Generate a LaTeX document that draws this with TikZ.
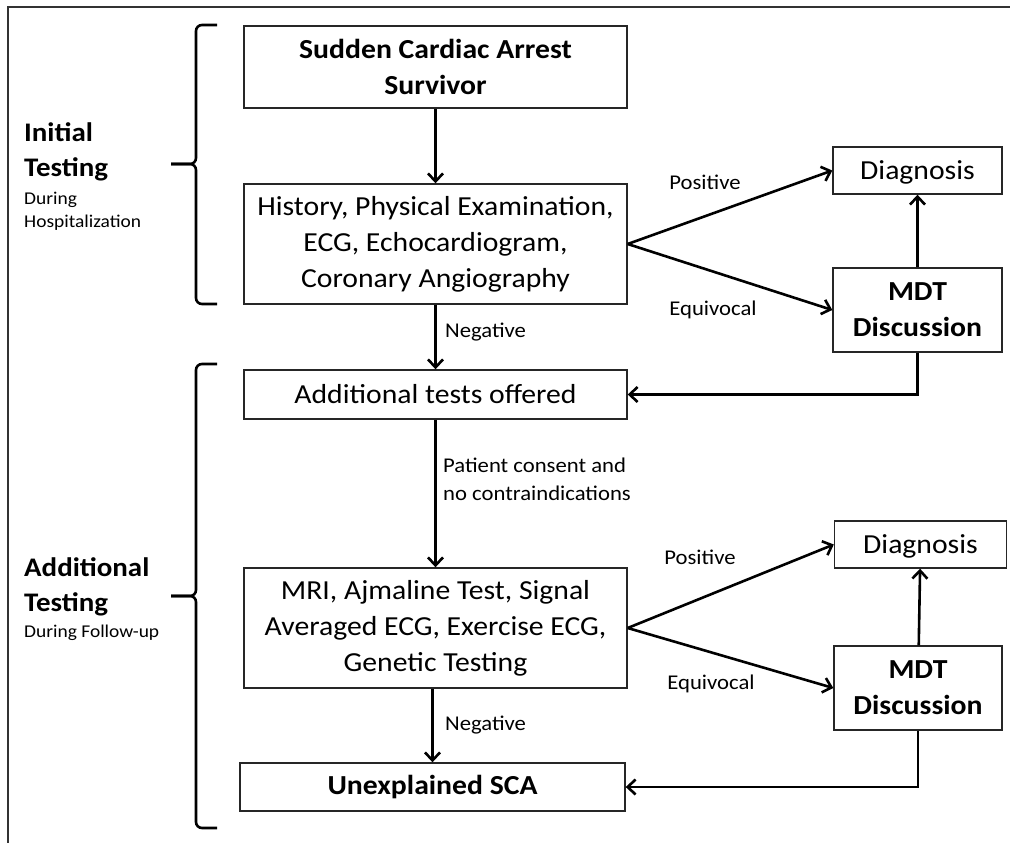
\documentclass[tikz,border=0pt]{standalone}
\usepackage{fontspec}
\setmainfont{Carlito}[FakeStretch=1.08]
\usetikzlibrary{arrows.meta,positioning}

\begin{document}
\begin{tikzpicture}[x=1pt, y=-1pt, > = {Straight Barb[length=8pt,width=15pt]},
    box/.style = {draw=black!85, line width=1.4pt, align=center, inner sep=0pt, font=\fontsize{27.5}{36}\selectfont},
    bbox/.style = {box, font=\bfseries\fontsize{27.5}{36}\selectfont},
    flow/.style = {line width=2.6pt, ->},
    brace/.style = {line width=2.6pt, rounded corners=6pt},
    lbl/.style = {inner sep=0pt, align=left, font=\fontsize{21}{28}\selectfont},
    side/.style = {anchor=west, inner sep=0pt, align=left, font=\bfseries\fontsize{26.8}{35}\selectfont},
    sidesmall/.style = {anchor=west, inner sep=0pt, align=left, font=\fontsize{18}{23}\selectfont}]

    \useasboundingbox (0,0) rectangle (1010,843);

    % frame
    \draw[line width=2.2pt, black!80] (1010,7) -- (8,7) -- (8,843);

    % main column
    \node[bbox, minimum width=383pt, minimum height=82pt] (sca) at (435.5,67) {Sudden Cardiac Arrest\\Survivor};
    \node[box, minimum width=383pt, minimum height=120pt] (hist) at (435.5,244) {History, Physical Examination,\\ECG, Echocardiogram,\\Coronary Angiography};
    \node[box, minimum width=383pt, minimum height=49pt] (add) at (435.5,394.5) {Additional tests offered};
    \node[box, minimum width=383pt, minimum height=120pt] (mri) at (435.5,628) {MRI, Ajmaline Test, Signal\\Averaged ECG, Exercise ECG,\\Genetic Testing};
    \node[bbox, minimum width=385pt, minimum height=48pt] (unex) at (432.5,787) {Unexplained SCA};

    % right column
    \node[box, text depth=0pt, minimum width=169pt, minimum height=47pt] (diag1) at (917.5,170.5) {Diagnosis};
    \node[bbox, minimum width=169pt, minimum height=84pt] (mdt1) at (917.5,310) {MDT\\Discussion};
    \node[box, text depth=0pt, minimum width=172pt, minimum height=47pt] (diag2) at (920.5,544.5) {Diagnosis};
    \node[bbox, minimum width=168pt, minimum height=84pt] (mdt2) at (918,688) {MDT\\Discussion};

    % side labels
    \node[side] (init) at (24,152) {Initial\\Testing};
    \node[sidesmall] (hosp) at (24,211) {During\\Hospitalization};
    \node[side] (addt) at (24,587) {Additional\\Testing};
    \node[sidesmall] (foll) at (24,633) {During Follow-up};

    % braces
    \draw[brace] (217,25) -| (196,164) -- (171,164);
    \draw[brace] (217,304) -| (196,164) -- (171,164);
    \draw[brace] (217,364) -| (196,596) -- (171,596);
    \draw[brace] (217,828) -| (196,596) -- (171,596);

    % arrows
    \draw[flow] (sca) -- (hist);
    \draw[flow] (hist) -- (add);
    \draw[flow] (add) -- (mri);
    \draw[flow] (mri.south -| unex.north) -- (unex.north);
    \draw[flow] (hist.east) -- (diag1.west);
    \draw[flow] (hist.east) -- (mdt1.west);
    \draw[flow] (mdt1) -- (diag1);
    \draw[flow] (mdt1.south) |- (add.east);
    \draw[flow] (mri.east) -- (diag2.west);
    \draw[flow] (mri.east) -- (mdt2.west);
    \draw[flow] (mdt2) -- (diag2);
    \draw[flow] (mdt2.south) |- (unex.east);

    % edge labels
    \node[lbl] (pos1) at (705,182) {Positive};
    \node[lbl] (equ1) at (713,310) {Equivocal};
    \node[lbl, anchor=west] (neg1) at (445,332) {Negative};
    \node[lbl, anchor=west] (cons) at (443,479) {Patient consent and\\no contraindications};
    \node[lbl] (pos2) at (700,557) {Positive};
    \node[lbl] (equ2) at (711,684) {Equivocal};
    \node[lbl, anchor=west] (neg2) at (445,725) {Negative};

\end{tikzpicture}
\end{document}
